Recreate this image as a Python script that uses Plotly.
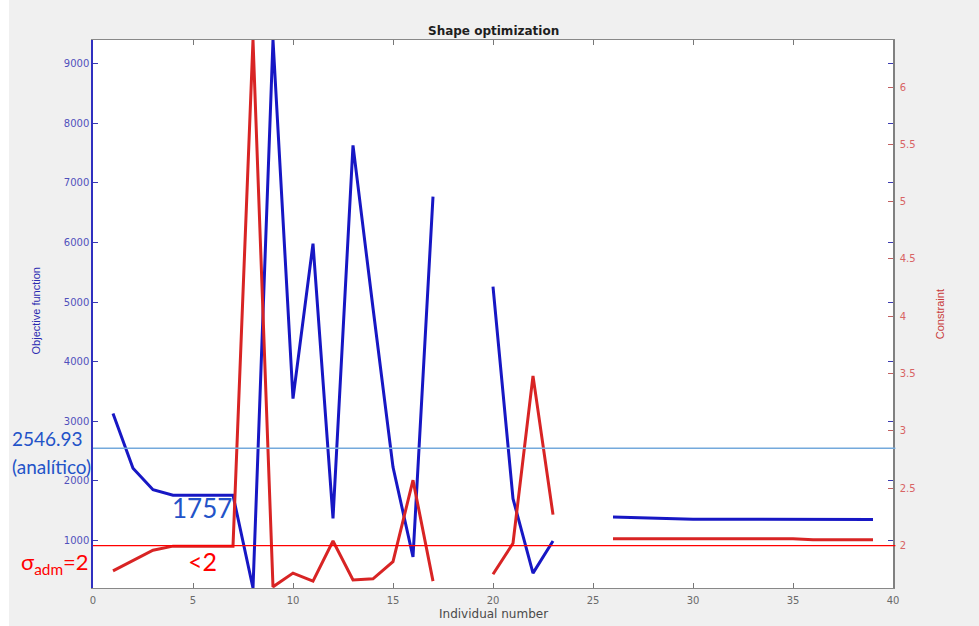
import plotly.graph_objects as go

# Individual numbers and the two optimisation histories (None = no result)
individual = list(range(1, 40))
objective = [3130, 2210, 1850, 1757, 1757, 1757, 1757, 200, 9400, 3380,
             5980, 1370, 7630, 4900, 2230, 720, 6770, None, None, 5260,
             1700, 450, 990, None, None, 1390, 1380, 1370, 1360, 1355,
             1355, 1355, 1355, 1355, 1355, 1352, 1352, 1350, 1350]
constraint = [1.78, 1.87, 1.96, 1.995, 1.995, 1.995, 1.995, 6.41, 1.64, 1.76,
              1.69, 2.04, 1.70, 1.71, 1.86, 2.57, 1.69, None, None, 1.75,
              2.02, 3.48, 2.27, None, None, 2.06, 2.06, 2.06, 2.06, 2.06,
              2.06, 2.06, 2.06, 2.06, 2.06, 2.05, 2.05, 2.05, 2.05]

x_ticks = [0, 5, 10, 15, 20, 25, 30, 35, 40]
obj_ticks = [1000, 2000, 3000, 4000, 5000, 6000, 7000, 8000, 9000]
con_ticks = [2, 2.5, 3, 3.5, 4, 4.5, 5, 5.5, 6]

analytic_value = 2546.93
sigma_adm = 2
best_value = 1757

BLUE = "#1717c4"
RED = "#d82424"
AX_FONT = "Liberation Sans, Arial, sans-serif"
WIDE_FONT = "DejaVu Sans, Verdana, sans-serif"
NOTE_FONT = "Lato, Noto Sans, sans-serif"

fig = go.Figure()
fig.add_trace(go.Scatter(x=individual, y=objective, mode="lines",
                         line=dict(color=BLUE, width=3), yaxis="y",
                         showlegend=False, hoverinfo="x+y"))
fig.add_trace(go.Scatter(x=individual, y=constraint, mode="lines",
                         line=dict(color=RED, width=3), yaxis="y2",
                         showlegend=False, hoverinfo="x+y"))

shapes = [
    # white frame around the grey figure area
    dict(type="rect", xref="paper", yref="paper", x0=-0.2, x1=-0.105,
         y0=-0.1, y1=1.1, fillcolor="white", line_width=0, layer="below"),
    dict(type="rect", xref="paper", yref="paper", x0=-0.2, x1=1.2,
         y0=1.0731, y1=1.1, fillcolor="white", line_width=0, layer="below"),
    # reference levels
    dict(type="line", xref="paper", yref="y", x0=0, x1=1.003,
         y0=analytic_value, y1=analytic_value,
         line=dict(color="#74a9dc", width=1.6)),
    dict(type="line", xref="paper", yref="y2", x0=0, x1=1.003,
         y0=sigma_adm, y1=sigma_adm,
         line=dict(color="#ff0000", width=1.3)),
]


def note(text, x, y, size, color, family=NOTE_FONT, xanchor="center",
         angle=0):
    return dict(text=text, xref="paper", yref="paper", x=x, y=y,
                xanchor=xanchor, yanchor="middle", textangle=angle,
                showarrow=False, align="left",
                font=dict(family=family, size=size, color=color))


annotations = [
    note("<b>Shape optimization</b>", 0.5, 1.0164, 12, "#1e1e1e", WIDE_FONT),
    note("Individual number", 0.5, -0.048, 12, "#4a4a4a", WIDE_FONT),
    note("Objective function", -0.071, 0.505, 11, "#2a2ab0", AX_FONT,
         angle=-90),
    note("Constraint", 1.059, 0.50, 11, "#c83a3a", AX_FONT, angle=-90),
    note(f"{analytic_value:.2f}", -0.104, 0.2735, 19, "#2353c8",
         xanchor="left"),
    note("(analítico)", -0.104, 0.2225, 19, "#2353c8", xanchor="left"),
    note(str(best_value), 0.136, 0.146, 26, "#2353c8"),
    note("&lt;2", 0.137, 0.049, 25, "#ff0000"),
    note(f"σ<sub>adm</sub>={sigma_adm}", -0.0475, 0.046, 22, "#ff0000"),
]

fig.update_layout(
    width=979, height=626,
    margin=dict(l=93, r=86, t=40, b=38),
    paper_bgcolor="#f0f0f0", plot_bgcolor="white",
    showlegend=False,
    xaxis=dict(range=[0, 40], tickvals=x_ticks, ticks="inside", ticklen=5,
               tickcolor="#777", showline=True, linecolor="#888", linewidth=1,
               mirror="ticks", showgrid=False, zeroline=False,
               ticklabelstandoff=3,
               tickfont=dict(family=WIDE_FONT, size=10, color="#6a6a6a")),
    yaxis=dict(range=[200, 9400], tickvals=obj_ticks, ticks="inside",
               ticklen=5, tickcolor="#3a3ab0", showline=True,
               linecolor="#3030c0", linewidth=1.5, mirror="ticks",
               showgrid=False, zeroline=False,
               tickfont=dict(family=WIDE_FONT, size=10, color="#5050bc")),
    yaxis2=dict(range=[1.63, 6.41], tickvals=con_ticks, ticks="inside",
                ticklen=5, tickcolor="#c06060", overlaying="y", side="right",
                showline=True, linecolor="#808080", linewidth=1.5,
                showgrid=False, zeroline=False, ticklabelstandoff=3,
                tickfont=dict(family=WIDE_FONT, size=10, color="#d86464")),
    shapes=shapes,
    annotations=annotations,
)

fig.write_html("out.html")
